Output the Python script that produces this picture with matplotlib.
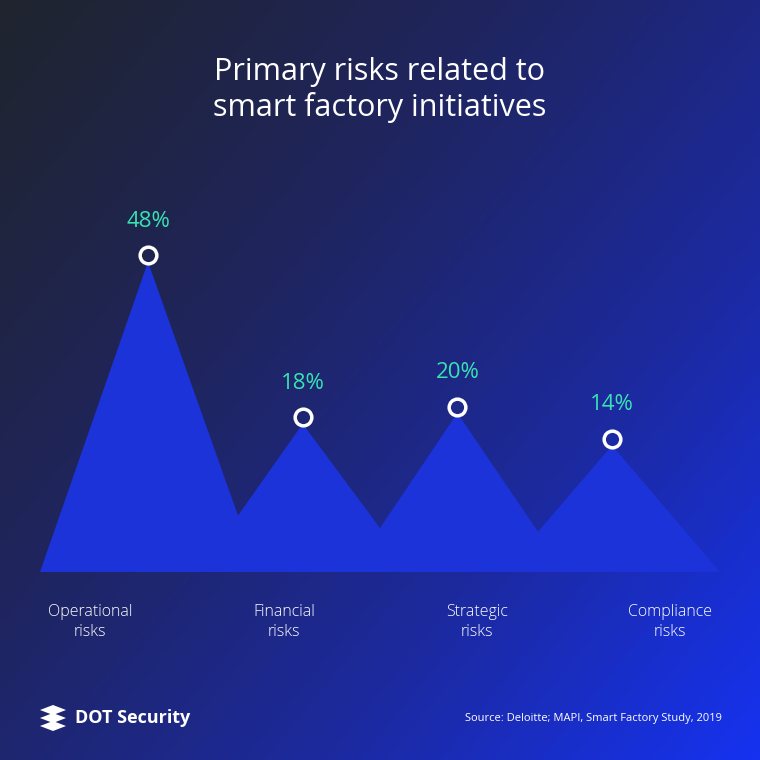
import numpy as np
import matplotlib
matplotlib.use("Agg")
import matplotlib.pyplot as plt
from matplotlib.colors import LinearSegmentedColormap

categories = ["Operational\nrisks", "Financial\nrisks", "Strategic\nrisks", "Compliance\nrisks"]
values = [48, 18, 20, 14]
valley_levels = [1.0, -1.3, -2.0]

fig = plt.figure(figsize=(7.6, 7.6), dpi=100)
ax = fig.add_axes([0, 0, 1, 1])
x0, dx = 148, 154.7
def px(p): return (p - x0) / dx
ylo, yhi = (521 - 760) / 5.4, 521 / 5.4
ax.set_xlim(px(0), px(760)); ax.set_ylim(ylo, yhi)
ax.axis("off")

g = np.linspace(0, 1, 300)
X, Y = np.meshgrid(g, g)
t = np.clip((X * 0.55 + Y * 0.45), 0, 1) ** 1.1
cmap = LinearSegmentedColormap.from_list("bg", ["#20242f", "#1f2560", "#1c2aa0", "#1632f0"])
ax.imshow(t, cmap=cmap, extent=[px(0), px(760), ylo, yhi], aspect="auto", zorder=0, origin="upper")

base = -9.44
xs = [px(40), 0, px(238), 1, px(380), 2, px(538), 3, px(720)]
ys = [base, values[0], valley_levels[0], values[1], valley_levels[1], values[2], valley_levels[2], values[3], base]
ax.fill(xs, ys, color="#1b33d8", zorder=2, lw=0)

for i, v in enumerate(values):
    ax.plot(i, v + 1.2, marker="o", ms=12, mfc="none", mec="white", mew=2.5, zorder=3)
    ax.text(i, v + 7.5, f"{v}%", color="#37e3b2", fontsize=16, ha="center", va="center",
            family="Open Sans", zorder=4)

label_px = [90, 284, 477, 670]
for lp, c in zip(label_px, categories):
    ax.text(px(lp), (521 - 622) / 5.4, c, color="white", fontsize=11.5, ha="center", va="center",
            family="Open Sans", linespacing=1.3, fontweight="light")

fig.text(0.5, 1 - 90 / 760, "Primary risks related to\nsmart factory initiatives", color="white",
         fontsize=22, ha="center", va="center", family="Open Sans", linespacing=1.2)
fig.text(75 / 760, 1 - 718 / 760, "DOT Security", color="white", fontsize=13, fontweight="bold",
         ha="left", va="center", family="Open Sans")
for k, yy in enumerate([710, 718, 726]):
    ax.fill([px(40), px(53), px(66), px(53)],
            [(521 - yy) / 5.4, (521 - yy + 5) / 5.4, (521 - yy) / 5.4, (521 - yy - 5) / 5.4],
            color="white", zorder=4, lw=0)
fig.text(722 / 760, 1 - 718 / 760, "Source: Deloitte; MAPI, Smart Factory Study, 2019", color="white",
         fontsize=8, ha="right", va="center", family="Open Sans")

fig.savefig("out.png", dpi=100)
